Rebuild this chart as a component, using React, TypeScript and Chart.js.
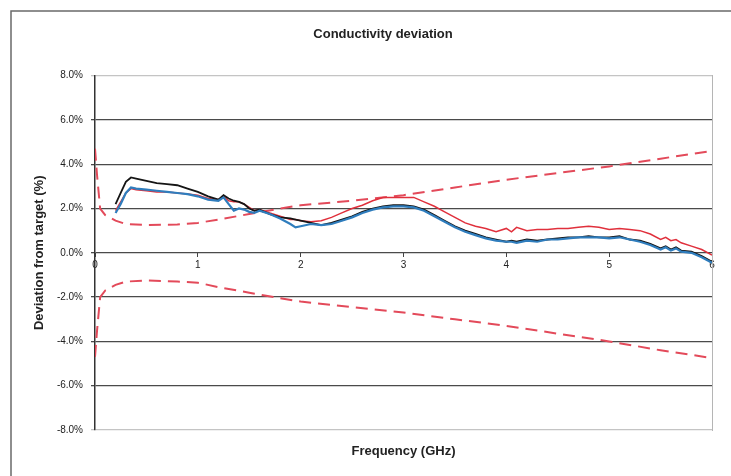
import React, { useEffect, useRef } from "react";
import { Chart, registerables } from "chart.js";

Chart.register(...registerables);

const measFreq = [0.2,0.25,0.3,0.35,0.4,0.5,0.6,0.7,0.8,0.9,1.0,1.1,1.2,1.25,1.3,1.35,1.4,1.45,1.5,1.55,1.6,1.7,1.8,1.9,1.95,2.0,2.1,2.2,2.3,2.4,2.5,2.6,2.7,2.8,2.9,3.0,3.1,3.2,3.3,3.4,3.5,3.6,3.7,3.8,3.9,4.0,4.05,4.1,4.2,4.3,4.4,4.5,4.6,4.7,4.8,4.9,5.0,5.1,5.2,5.3,5.4,5.5,5.55,5.6,5.65,5.7,5.8,5.9,6.0];

const blackVals = [2.2,2.7,3.2,3.4,3.35,3.25,3.15,3.1,3.05,2.9,2.75,2.55,2.4,2.6,2.45,2.35,2.3,2.2,2.0,1.9,1.95,1.75,1.6,1.55,1.5,1.45,1.35,1.25,1.35,1.5,1.65,1.85,2.0,2.1,2.15,2.15,2.1,1.95,1.7,1.45,1.2,1.0,0.85,0.7,0.6,0.5,0.55,0.5,0.6,0.55,0.6,0.65,0.7,0.7,0.75,0.7,0.7,0.75,0.6,0.55,0.4,0.2,0.3,0.15,0.25,0.1,0.05,-0.15,-0.4];

const blueVals = [1.8,2.2,2.7,2.95,2.9,2.85,2.8,2.75,2.7,2.65,2.55,2.4,2.35,2.5,2.2,1.9,2.0,1.95,1.85,1.8,1.9,1.75,1.55,1.3,1.15,1.2,1.3,1.25,1.3,1.45,1.6,1.8,1.95,2.05,2.1,2.1,2.05,1.9,1.65,1.4,1.15,0.95,0.8,0.65,0.55,0.5,0.5,0.45,0.55,0.5,0.6,0.6,0.65,0.7,0.7,0.7,0.65,0.7,0.6,0.5,0.35,0.15,0.25,0.1,0.2,0.05,0.0,-0.2,-0.45];

const redVals = [1.9,2.3,2.7,2.9,2.85,2.8,2.75,2.75,2.7,2.65,2.6,2.45,2.4,2.55,2.35,2.3,2.3,2.2,2.05,1.9,1.95,1.8,1.65,1.5,1.5,1.45,1.4,1.45,1.6,1.8,2.0,2.15,2.35,2.5,2.5,2.5,2.5,2.3,2.1,1.85,1.6,1.35,1.2,1.1,0.95,1.1,0.95,1.15,1.0,1.05,1.05,1.1,1.1,1.15,1.2,1.15,1.05,1.1,1.05,1.0,0.85,0.6,0.7,0.55,0.6,0.45,0.3,0.15,-0.1];

const limFreq = [0,0.02,0.05,0.1,0.2,0.3,0.5,0.8,1.0,1.2,1.5,1.8,2.0,2.5,3.0,3.5,4.0,4.5,5.0,5.5,6.0];
const upperLimit = [4.7,3.5,2.0,1.7,1.45,1.3,1.25,1.28,1.35,1.5,1.75,2.0,2.15,2.35,2.6,2.95,3.3,3.6,3.9,4.25,4.6];
const lowerLimit = [-4.7,-3.5,-2.0,-1.7,-1.45,-1.3,-1.25,-1.3,-1.35,-1.55,-1.8,-2.05,-2.2,-2.45,-2.7,-3.0,-3.3,-3.65,-4.0,-4.4,-4.75];

const yTicks = [-8, -6, -4, -2, 0, 2, 4, 6, 8];
const xTicks = [0, 1, 2, 3, 4, 5, 6];

const titleText = "Conductivity deviation";
const xTitle = "Frequency (GHz)";
const yTitle = "Deviation from target (%)";

const FONT = "Arial, 'Liberation Sans', Helvetica, sans-serif";

const zip = (xs: number[], ys: number[]) => xs.map((x, i) => ({ x, y: ys[i] }));

const framePlugin = {
  id: "frame",
  beforeDraw(chart: any) {
    const ctx = chart.ctx;
    ctx.save();
    ctx.fillStyle = "#ffffff";
    ctx.fillRect(0, 0, chart.width, chart.height);
    ctx.strokeStyle = "#6a6a6a";
    ctx.lineWidth = 1.5;
    ctx.beginPath();
    ctx.moveTo(11, chart.height);
    ctx.lineTo(11, 11);
    ctx.lineTo(chart.width, 11);
    ctx.stroke();
    ctx.restore();
  },
  afterLayout(chart: any) {
    const t = chart.titleBlock;
    if (t) {
      t.left = 12;
      t.right = 754;
      t.width = 742;
    }
  },
};

export default function App() {
  const ref = useRef<HTMLCanvasElement | null>(null);

  useEffect(() => {
    if (!ref.current) return;
    const chart = new Chart(ref.current, {
      type: "line",
      data: {
        datasets: [
          {
            label: "blue",
            data: zip(measFreq, blueVals),
            borderColor: "#2f7dbd",
            borderWidth: 2.2,
            pointRadius: 0,
            tension: 0,
            order: 0,
          },
          {
            label: "black",
            data: zip(measFreq, blackVals),
            borderColor: "#151515",
            borderWidth: 1.8,
            pointRadius: 0,
            tension: 0,
            order: 1,
          },
          {
            label: "red",
            data: zip(measFreq, redVals),
            borderColor: "#e0303c",
            borderWidth: 1.5,
            pointRadius: 0,
            tension: 0,
            order: 2,
          },
          {
            label: "upper",
            data: zip(limFreq, upperLimit),
            borderColor: "#e34a5a",
            borderWidth: 2,
            borderDash: [12, 7],
            pointRadius: 0,
            tension: 0,
            order: 3,
          },
          {
            label: "lower",
            data: zip(limFreq, lowerLimit),
            borderColor: "#e34a5a",
            borderWidth: 2,
            borderDash: [12, 7],
            pointRadius: 0,
            tension: 0,
            order: 3,
          },
        ],
      },
      options: {
        responsive: false,
        animation: false,
        layout: { padding: { left: 12, right: 19, top: 0, bottom: 0 } },
        plugins: {
          legend: { display: false },
          tooltip: { enabled: false },
          title: {
            display: true,
            text: titleText,
            color: "#222",
            font: { family: FONT, size: 13, weight: "bold" },
            padding: { top: 27, bottom: 33 },
          },
        },
        scales: {
          x: {
            type: "linear",
            position: { y: 0 } as any,
            min: 0,
            max: 6,
            afterBuildTicks: (s: any) => {
              s.ticks = xTicks.map((v) => ({ value: v }));
            },
            ticks: {
              color: "#222",
              font: { family: FONT, size: 10 },
              padding: 2,
              maxRotation: 0,
              callback: (v: any) => String(v),
            },
            grid: {
              drawOnChartArea: false,
              drawTicks: true,
              tickLength: 4,
              color: "#444",
            },
            border: { display: false },
          },
          x2: {
            type: "linear",
            position: "bottom",
            min: 0,
            max: 6,
            ticks: { display: false },
            grid: { display: false },
            border: { display: false },
            title: {
              display: true,
              text: xTitle,
              color: "#222",
              font: { family: FONT, size: 13, weight: "bold" },
              padding: { top: 0, bottom: 17 },
            },
            afterFit: (s: any) => {
              s.height = 46;
            },
          },
          y: {
            type: "linear",
            position: "left",
            min: -8,
            max: 8,
            afterBuildTicks: (s: any) => {
              s.ticks = yTicks.map((v) => ({ value: v }));
            },
            ticks: {
              color: "#222",
              font: { family: FONT, size: 10 },
              padding: 8,
              callback: (v: any) => Number(v).toFixed(1) + "%",
            },
            grid: {
              color: (c: any) =>
                c.tick && Math.abs(c.tick.value) === 8 ? "#c4c4c4" : "#4a4a4a",
              lineWidth: 1.3,
              drawTicks: true,
              tickLength: 4,
            },
            border: { color: "#333", width: 1.5 },
            title: {
              display: true,
              text: yTitle,
              color: "#222",
              font: { family: FONT, size: 13, weight: "bold" },
              padding: { top: 20, bottom: 0 },
            },
            afterFit: (s: any) => {
              s.width = 83;
            },
          },
          yR: {
            type: "linear",
            position: "right",
            min: -8,
            max: 8,
            ticks: { display: false },
            grid: { display: false },
            border: { display: true, color: "#b5b5b5", width: 1, dash: [5, 2] },
            afterFit: (s: any) => {
              s.width = 0;
            },
          },
        },
      },
      plugins: [framePlugin],
    } as any);
    return () => chart.destroy();
  }, []);

  return (
    <div style={{ position: "fixed", left: 0, top: 0, width: 731, height: 476, background: "#fff" }}>
      <canvas ref={ref} width={731} height={476} style={{ display: "block" }} />
    </div>
  );
}
